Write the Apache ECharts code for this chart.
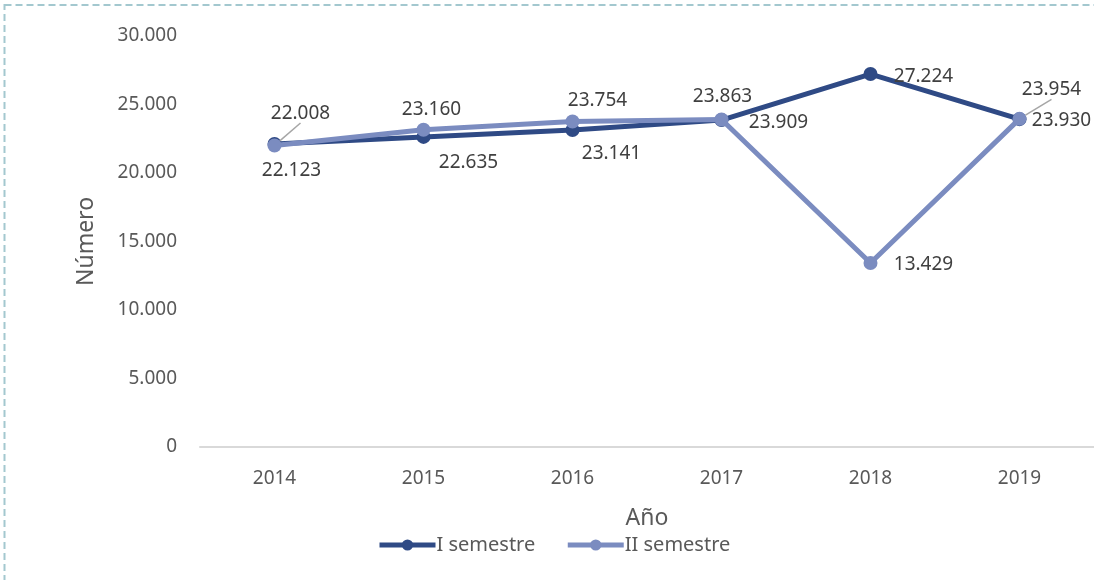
<!DOCTYPE html>
<html>
<head>
<meta charset="utf-8">
<script src="https://cdn.jsdelivr.net/npm/echarts@6/dist/echarts.min.js"></script>
<style>
  html, body { margin: 0; padding: 0; background: #fff; }
  #chart { width: 1094px; height: 580px; }
</style>
</head>
<body>
<div id="chart"></div>
<script>
const years = ['2014', '2015', '2016', '2017', '2018', '2019']
const semestre1 = [22123, 22635, 23141, 23863, 27224, 23930]
const semestre2 = [22008, 23160, 23754, 23909, 13429, 23954]
// label offsets (px) per point, relative to the point
const off1 = [[17, 27], [45, 26], [39, 24], [1, -23], [53, 3], [42, 1]]
const off2 = [[26, -32], [8, -20], [25, -21], [57, 3], [53, 2], [32, -29]]
const leader2 = [true, false, false, false, false, true]

const fmt = v => String(v).replace(/\B(?=(\d{3})+(?!\d))/g, '.')
const font = 'Noto Sans'
const textColor = '#595959'

const makeData = (vals, offs, leaders) => vals.map((v, i) => ({
  value: v,
  label: { offset: offs[i] },
  labelLine: { show: !!(leaders && leaders[i]) }
}))

const chart = echarts.init(document.getElementById('chart'))
chart.setOption({
  animation: false,
  textStyle: { fontFamily: font },
  graphic: [{
    type: 'rect',
    shape: { x: 4.5, y: 5, width: 1200, height: 700 },
    style: { fill: 'none', stroke: '#a3c8cf', lineWidth: 2, lineDash: [7, 4] },
    silent: true
  }],
  legend: {
    left: 372,
    top: 530,
    itemWidth: 56,
    itemHeight: 14,
    itemGap: 30,
    lineStyle: { width: 5 },
    textStyle: { fontFamily: font, fontSize: 20, color: textColor, padding: [0, 0, 0, -4] },
    data: ['I semestre', 'II semestre']
  },
  grid: { left: 200, right: 0, top: 36, bottom: 133 },
  xAxis: {
    type: 'category',
    data: years,
    name: 'Año',
    nameLocation: 'middle',
    nameGap: 60,
    nameTextStyle: { fontFamily: font, fontSize: 23, color: textColor },
    axisLine: { lineStyle: { color: '#d9d9d9', width: 2 } },
    axisTick: { show: false },
    axisLabel: { fontFamily: font, fontSize: 19, color: textColor, margin: 22 }
  },
  yAxis: {
    type: 'value',
    min: 0,
    max: 30000,
    interval: 5000,
    name: 'Número',
    nameLocation: 'middle',
    nameGap: 102,
    nameTextStyle: { fontFamily: font, fontSize: 23, color: textColor },
    splitLine: { show: false },
    axisLine: { show: false },
    axisTick: { show: false },
    axisLabel: { fontFamily: font, fontSize: 19, color: textColor, margin: 23, formatter: fmt }
  },
  series: [
    {
      name: 'I semestre',
      type: 'line',
      data: makeData(semestre1, off1),
      symbol: 'circle',
      symbolSize: 14,
      lineStyle: { width: 5, color: '#2f4a85' },
      itemStyle: { color: '#2f4a85' },
      label: {
        show: true,
        position: 'inside',
        fontFamily: font,
        fontSize: 19,
        color: '#404040',
        formatter: p => fmt(p.value)
      },
      z: 3
    },
    {
      name: 'II semestre',
      type: 'line',
      data: makeData(semestre2, off2, leader2),
      symbol: 'circle',
      symbolSize: 14,
      lineStyle: { width: 5, color: '#7b8cc0' },
      itemStyle: { color: '#7b8cc0' },
      labelLine: { lineStyle: { color: '#a6a6a6', width: 1.5 } },
      label: {
        show: true,
        position: 'inside',
        fontFamily: font,
        fontSize: 19,
        color: '#404040',
        formatter: p => fmt(p.value)
      },
      z: 4
    }
  ]
})
</script>
</body>
</html>
